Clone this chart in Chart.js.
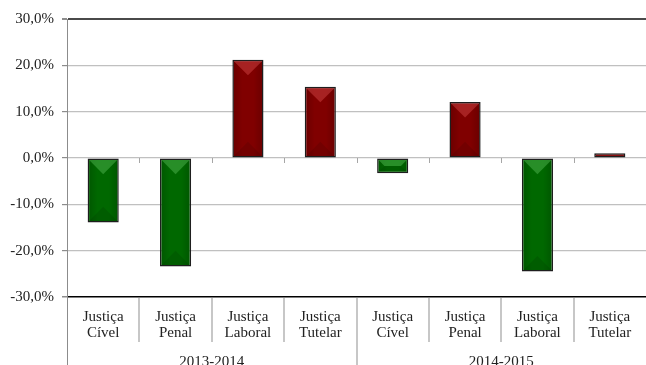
<!DOCTYPE html>
<html>
<head>
<meta charset="utf-8">
<script src="https://cdn.jsdelivr.net/npm/chart.js@4/dist/chart.umd.min.js"></script>
<style>
html,body{margin:0;padding:0;background:#fff;}
#wrap{width:646px;height:365px;position:relative;}
</style>
</head>
<body>
<div id="wrap"><canvas id="c" width="646" height="365"></canvas></div>
<script>
const categories = ['Justiça Cível','Justiça Penal','Justiça Laboral','Justiça Tutelar','Justiça Cível','Justiça Penal','Justiça Laboral','Justiça Tutelar'];
const labelLines = [['Justiça','Cível'],['Justiça','Penal'],['Justiça','Laboral'],['Justiça','Tutelar'],['Justiça','Cível'],['Justiça','Penal'],['Justiça','Laboral'],['Justiça','Tutelar']];
const groups = ['2013-2014','2014-2015'];
const groupSize = 4;
const values = [-13.9, -23.4, 21.2, 15.4, -3.3, 12.1, -24.5, 1.0];
const yTicks = [30, 20, 10, 0, -10, -20, -30];

const FONT = '"Liberation Serif", "DejaVu Serif", serif';

const bevelPlugin = {
  id: 'bevel',
  afterDatasetsDraw(chart) {
    const ctx = chart.ctx;
    const meta = chart.getDatasetMeta(0);
    meta.data.forEach((el, i) => {
      const p = el.getProps(['x','y','base','width'], true);
      const bw = 1.5;
      const l = p.x - p.width/2 + bw, r = p.x + p.width/2 - bw;
      const t = Math.min(p.y, p.base) + bw, b = Math.max(p.y, p.base) - bw;
      if (b <= t) return;
      const neg = values[i] < 0;
      ctx.save();
      ctx.beginPath(); ctx.rect(l, t, r - l, b - t); ctx.clip();
      const g = ctx.createLinearGradient(l, 0, r, 0);
      g.addColorStop(0, 'rgba(0,0,0,0.15)');
      g.addColorStop(0.3, 'rgba(0,0,0,0)');
      g.addColorStop(0.7, 'rgba(0,0,0,0)');
      g.addColorStop(1, 'rgba(0,0,0,0.15)');
      ctx.fillStyle = g; ctx.fillRect(l, t, r - l, b - t);
      const w = r - l;
      const full = w * 0.5;
      const d = Math.min(full, (b - t) / 2);
      const k = (w / 2) * (d / full);
      ctx.beginPath();
      ctx.moveTo(l, t); ctx.lineTo(r, t); ctx.lineTo(r - k, t + d); ctx.lineTo(l + k, t + d); ctx.closePath();
      ctx.fillStyle = neg ? 'rgba(80,180,80,0.5)' : 'rgba(215,75,75,0.45)';
      ctx.fill();
      ctx.beginPath();
      ctx.moveTo(l, b); ctx.lineTo(r, b); ctx.lineTo(r - k, b - d); ctx.lineTo(l + k, b - d); ctx.closePath();
      ctx.fillStyle = 'rgba(0,0,0,0.1)';
      ctx.fill();
      ctx.restore();
    });
  }
};

const axisPlugin = {
  id: 'axisdeco',
  afterDraw(chart) {
    const ctx = chart.ctx;
    const xs = chart.scales.x, ys = chart.scales.y;
    const ca = chart.chartArea;
    const y0 = ys.getPixelForValue(0);
    const half = (xs.getPixelForValue(1) - xs.getPixelForValue(0)) / 2;
    ctx.save();
    ctx.strokeStyle = '#8c8c8c'; ctx.lineWidth = 1;
    ctx.beginPath(); ctx.moveTo(Math.round(ca.left) + 0.5, ca.bottom); ctx.lineTo(Math.round(ca.left) + 0.5, 365); ctx.stroke();
    ctx.strokeStyle = '#a6a6a6';
    for (let i = 0; i < categories.length - 1; i++) {
      const bx = Math.round(xs.getPixelForValue(i) + half) + 0.5;
      ctx.beginPath(); ctx.moveTo(bx, y0); ctx.lineTo(bx, y0 + 5); ctx.stroke();
    }
    ctx.strokeStyle = '#b4b4b4'; ctx.lineWidth = 1.5;
    for (let i = 0; i < categories.length - 1; i++) {
      const bx = Math.round(xs.getPixelForValue(i) + half);
      const isGroup = (i + 1) % groupSize === 0;
      ctx.beginPath(); ctx.moveTo(bx, ca.bottom + 1); ctx.lineTo(bx, isGroup ? 365 : ca.bottom + 45); ctx.stroke();
    }
    ctx.fillStyle = '#222222';
    ctx.font = '15px ' + FONT;
    ctx.textAlign = 'center'; ctx.textBaseline = 'middle';
    labelLines.forEach((lines, i) => {
      const cx = xs.getPixelForValue(i);
      lines.forEach((s, k) => ctx.fillText(s, cx, ca.bottom + 20 + k * 16));
    });
    groups.forEach((g, gi) => {
      const a = xs.getPixelForValue(gi * groupSize), b = xs.getPixelForValue(gi * groupSize + groupSize - 1);
      ctx.fillText(g, (a + b) / 2, ca.bottom + 65);
    });
    ctx.restore();
  }
};

new Chart(document.getElementById('c'), {
  type: 'bar',
  data: {
    labels: categories,
    datasets: [{
      data: values,
      backgroundColor: (c) => (values[c.dataIndex] < 0 ? '#006800' : '#800000'),
      borderColor: '#1e1e1e',
      borderWidth: 1.5,
      borderSkipped: false,
      categoryPercentage: 1,
      barPercentage: 0.43
    }]
  },
  options: {
    responsive: false,
    animation: false,
    devicePixelRatio: 1,
    layout: { padding: { top: 19, right: 0, bottom: 68, left: 0 } },
    plugins: { legend: { display: false }, tooltip: { enabled: false }, title: { display: false } },
    scales: {
      x: { display: false, offset: true },
      y: {
        min: -30, max: 30,
        afterFit: (s) => { s.width = 67; },
        afterBuildTicks: (s) => { s.ticks = yTicks.map(v => ({ value: v })); },
        ticks: {
          color: '#222222',
          font: { family: FONT, size: 15 },
          padding: 8,
          callback: (v) => v.toFixed(1).replace('.', ',') + '%'
        },
        grid: {
          color: (c) => c.tick && c.tick.value === 30 ? '#4a4a4a' : (c.tick && c.tick.value === -30 ? '#000000' : '#c0c0c0'),
          lineWidth: (c) => c.tick && c.tick.value === 30 ? 2 : (c.tick && c.tick.value === -30 ? 1.5 : 1.2),
          tickColor: '#8c8c8c',
          tickLength: 5
        },
        border: { color: '#8c8c8c', width: 1 }
      }
    }
  },
  plugins: [bevelPlugin, axisPlugin]
});
</script>
</body>
</html>
